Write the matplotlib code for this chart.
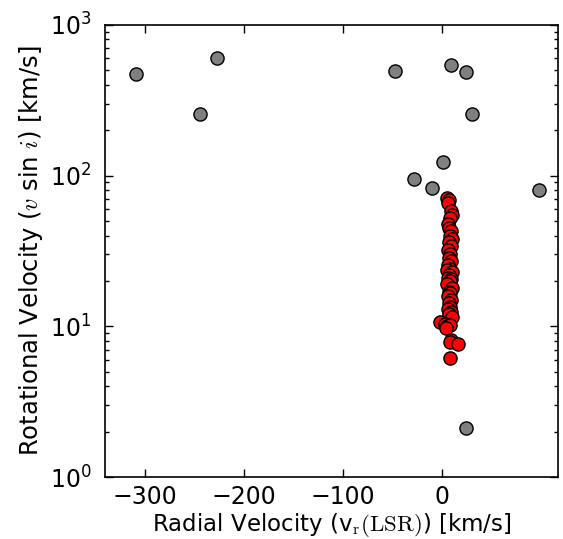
import matplotlib
matplotlib.use('Agg')
import matplotlib.pyplot as plt

# mathtext in computer modern, like old matplotlib papers
plt.rcParams['mathtext.fontset'] = 'cm'
plt.rcParams['font.family'] = 'DejaVu Sans'

# field stars (gray)
gray_vr = [-309, -227, -244, -47, 9, 25, 31, 1, -28, -10, 98, 25]
gray_vsini = [472, 604, 256, 494, 542, 487, 256, 123, 95, 83, 80, 2.1]

# cluster members (red)
red_vr = [5, 7, 6, 9, 10, 8, 6, 7, 9, 8, 10, 7, 9, 6, 8, 7, 9, 6, 8, 5,
          10, 7, 6, 9, 8, 5, 10, 7, 8, 6, 9, 7, 8, 6, 9, 7, 10, -2, 3, 5,
          8, 4, 9, 8, 16, 8]
red_vsini = [71, 69, 66, 58, 55, 52, 48, 45, 43, 40, 38, 36, 34, 32, 30,
             28.5, 27, 25.5, 24, 23.5, 23, 22, 21, 20.5, 20, 19, 18, 17,
             16.5, 16, 15, 14.3, 13.5, 13, 12.4, 12, 11.5, 10.7, 10.3, 10.0,
             10.2, 9.7, 8.1, 7.9, 7.6, 6.2]

fig = plt.figure(figsize=(5.63, 5.39), dpi=100)
ax = fig.add_axes([0.187, 0.115, 0.805, 0.839])

ax.scatter(gray_vr, gray_vsini, s=90, c='0.5', edgecolors='k', linewidths=1, zorder=3)
ax.scatter(red_vr, red_vsini, s=90, c='red', edgecolors='k', linewidths=1, zorder=4)

ax.set_yscale('log')
ax.set_ylim(1, 1000)
ax.set_xlim(-340, 118)
ax.set_xticks([-300, -200, -100, 0])

ax.tick_params(which='both', direction='in', top=True, right=True, labelsize=17, width=1)
ax.tick_params(which='major', length=6)
ax.tick_params(which='minor', length=3)
ax.tick_params(axis='x', which='major', pad=6)
ax.tick_params(axis='y', which='major', pad=10)
for s in ax.spines.values():
    s.set_linewidth(1.2)

ax.set_xlabel(r'Radial Velocity (v$_{\rm r}$$({\rm LSR})$) [km/s]', fontsize=16.5, labelpad=1)
ax.set_ylabel(r'Rotational Velocity ($v$ sin $i$) [km/s]', fontsize=17.5, labelpad=3)

fig.savefig('out.png', dpi=100)
